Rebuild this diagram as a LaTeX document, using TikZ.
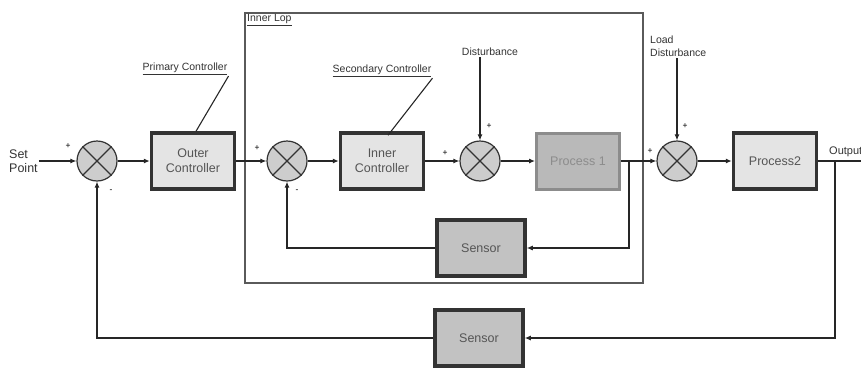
\documentclass[tikz,border=0pt]{standalone}
\usepackage{fontspec}
\setmainfont{Liberation Sans}
\usetikzlibrary{arrows.meta,positioning,calc}
\definecolor{edgedark}{HTML}{333333}
\definecolor{boxfill}{HTML}{E4E4E4}
\definecolor{procfill}{HTML}{B9B9B9}
\definecolor{procedge}{HTML}{8C8C8C}
\definecolor{sensfill}{HTML}{C2C2C2}
\definecolor{sumfill}{HTML}{CDCDCD}
\definecolor{boxtext}{HTML}{555555}
\definecolor{looped}{HTML}{5A5A5A}
\tikzset{
  block/.style={draw=edgedark, line width=3.5pt, fill=boxfill, minimum width=83pt, minimum height=56pt, inner sep=1pt, align=center, text=boxtext, font=\fontsize{12.5}{15}\selectfont},
  sumnode/.style={circle, draw=edgedark, line width=1.2pt, fill=sumfill, minimum size=40pt, inner sep=0pt},
  lbl/.style={inner sep=1pt, text=edgedark, font=\fontsize{10.5}{13}\selectfont},
  sign/.style={inner sep=0pt, font=\fontsize{8.5}{9}\selectfont},
  wire/.style={line width=1.1pt, draw=black!85}
}

\begin{document}
\begin{tikzpicture}[x=1pt, y=-1pt, >={Latex[length=6pt,width=5pt]}]
\useasboundingbox (0,0) rectangle (861,367);
% inner loop frame
\draw[looped, line width=1.3pt] (245,13) rectangle (643,283);
\node[lbl, anchor=north west] (looplbl) at (246,13) {\underline{Inner Lop}};
% forward path
\node[lbl, align=left, anchor=west, font=\fontsize{12.5}{14}\selectfont] (setp) at (8,161) {Set\\Point};
\node[sumnode] (s1) at (97,161) {};
\node[block] (outer) at (193,161) {Outer\\Controller};
\node[sumnode] (s2) at (287,161) {};
\node[block] (inner) at (382,161) {Inner\\Controller};
\node[sumnode] (s3) at (480,161) {};
\node[block, draw=procedge, line width=3pt, fill=procfill, text=procedge] (p1) at (578,161) {Process 1};
\node[sumnode] (s4) at (677,161) {};
\node[block] (p2) at (775,161) {Process2};
\node[block, fill=sensfill, minimum width=88pt] (sen1) at (481,248) {Sensor};
\node[block, fill=sensfill, minimum width=88pt] (sen2) at (479,338) {Sensor};
% crosses in the summing points
\foreach \s in {s1,s2,s3,s4} {
  \draw[edgedark, line width=1.1pt] (\s.north east) -- (\s.south west) (\s.north west) -- (\s.south east);
}
% labels
\node[lbl] (prim) at (185,69) {\underline{Primary Controller}};
\node[lbl] (sec) at (382,71) {\underline{Secondary Controller}};
\node[lbl] (dist) at (490,52) {Disturbance};
\node[lbl, align=left, anchor=north west] (load) at (649,35) {Load\\Disturbance};
\node[lbl, anchor=west, font=\fontsize{11}{13}\selectfont] (outp) at (828,152) {Output};
\draw[wire] (prim.south east) -- ($(outer.north)+(3,0)$);
\draw[wire] (sec.south east) -- ($(inner.north)+(6,4)$);
% signs
\node[sign] at ($(s1)+(-29,-15)$) {+};
\node[sign] at ($(s1)+(14,30)$) {-};
\node[sign] at ($(s2)+(-30,-13)$) {+};
\node[sign] at ($(s2)+(10,30)$) {-};
\node[sign] at ($(s3)+(-35,-8)$) {+};
\node[sign] at ($(s3)+(9,-35)$) {+};
\node[sign] at ($(s4)+(-27,-10)$) {+};
\node[sign] at ($(s4)+(8,-35)$) {+};
% connectors
\coordinate (b1) at ($(p1.east)+(8,0)$);
\coordinate (b2) at (835,161);
\coordinate (outend) at (861,161);
\draw[wire, ->] (setp) -- (s1);
\draw[wire, ->] (s1) -- (outer);
\draw[wire, ->] (outer) -- (s2);
\draw[wire, ->] (s2) -- (inner);
\draw[wire, ->] (inner) -- (s3);
\draw[wire, ->] (s3) -- (p1);
\draw[wire, ->] (p1) -- (s4);
\draw[wire, ->] (s4) -- (p2);
\draw[wire] (p2) -- (outend);
\draw[wire, ->] (s3.north |- dist.south) -- (s3.north);
\draw[wire, ->] (s4.north |- load.south) -- (s4.north);
% feedback paths
\draw[wire, ->] (b1) |- (sen1.east);
\draw[wire, ->] (sen1.west) -| (s2.south);
\draw[wire, ->] (b2) |- (sen2.east);
\draw[wire, ->] (sen2.west) -| (s1.south);
\end{tikzpicture}
\end{document}
